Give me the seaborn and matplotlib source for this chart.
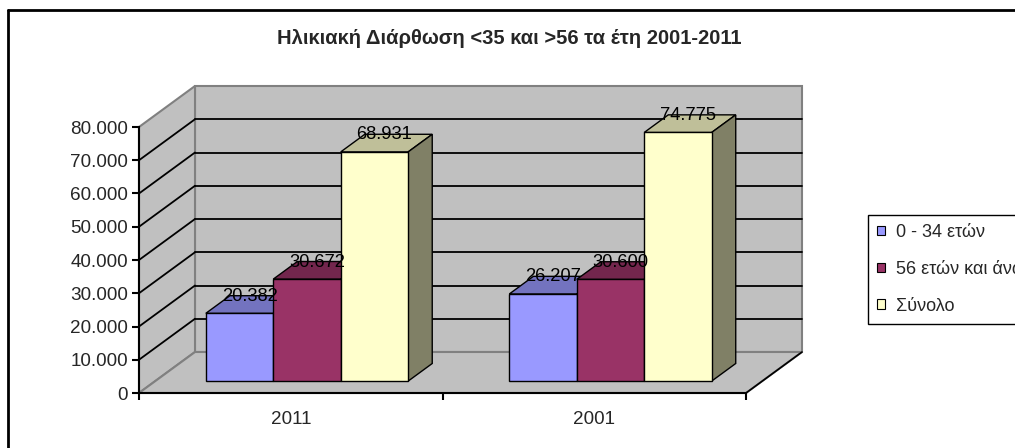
import matplotlib
matplotlib.use("Agg")
import matplotlib.pyplot as plt
import matplotlib.colors as mcolors
from matplotlib.patches import Polygon, Rectangle
from matplotlib.lines import Line2D
from matplotlib.transforms import IdentityTransform, Affine2D
from matplotlib.ticker import FuncFormatter, FixedLocator
import numpy as np
import pandas as pd
import seaborn as sns

# ─── Data ─────────────────────────────────────────────────────────────────────

TITLE  = "Ηλικιακή Διάρθωση <35 και >56 τα έτη 2001-2011"
years  = ["2011", "2001"]
groups = ["0 - 34 ετών", "56 ετών και άνω", "Σύνολο"]
young  = [20382, 26207]
older  = [30672, 30600]
total  = [68931, 74775]
colors = ["#9999FF", "#993366", "#FFFFCC"]
yticks = [0, 10000, 20000, 30000, 40000, 50000, 60000, 70000, 80000]

df = pd.DataFrame({
    "year":  years * 3,
    "group": np.repeat(groups, len(years)),
    "value": young + older + total,
})

sns.set_style("ticks")
plt.rcParams["font.family"] = ["Liberation Sans", "DejaVu Sans"]

W, H = 1015, 448
fig = plt.figure(figsize=(W / 100, H / 100), dpi=100)
ax = fig.add_axes([139 / W, 55 / H, 607 / W, 266 / H])

sns.barplot(data=df, x="year", y="value", hue="group", order=years,
            hue_order=groups, palette=colors, width=2 / 3, saturation=1,
            edgecolor="black", linewidth=1, errorbar=None, legend=False, ax=ax)
bars = sorted(ax.patches, key=lambda p: p.get_x())

X0, X1 = -0.5, 1.5
TOP = yticks[-1]
ax.set_xlim(X0, X1)
ax.set_ylim(0, TOP)
ax.patch.set_visible(False)

# fake 3D depth (pixels for full depth)
DEPTH = np.array([56.0, 41.0])
D0, D1 = 0.29, 0.72   # bar front / back depth fraction


def pt(x, y, d):
    return ax.transData.transform((x, y)) + d * DEPTH


def poly(pts, fc, ec, lw, z):
    ax.add_patch(Polygon(pts, closed=True, facecolor=fc, edgecolor=ec, lw=lw,
                         transform=IdentityTransform(), clip_on=False, zorder=z))


def seg(a, b, color, lw, z):
    ax.add_line(Line2D([a[0], b[0]], [a[1], b[1]], color=color, lw=lw,
                       transform=IdentityTransform(), clip_on=False, zorder=z))


def shade(c, f):
    r, g, b, a = mcolors.to_rgba(c)
    return (r * f, g * f, b * f, 1)


def fmt(v, _=None):
    return f"{v:,.0f}".replace(",", ".")


# walls + floor
wall, edge = "#C0C0C0", "#808080"
poly([pt(X0, 0, 1), pt(X1, 0, 1), pt(X1, TOP, 1), pt(X0, TOP, 1)], wall, edge, 1.5, 0.5)
poly([pt(X0, 0, 0), pt(X0, TOP, 0), pt(X0, TOP, 1), pt(X0, 0, 1)], wall, edge, 1.5, 0.6)
poly([pt(X0, 0, 0), pt(X1, 0, 0), pt(X1, 0, 1), pt(X0, 0, 1)], wall, edge, 1.5, 0.7)
seg(pt(X1, 0, 0), pt(X1, 0, 1), "black", 1.2, 0.8)

# gridlines on back and side walls
for t in yticks[1:-1]:
    seg(pt(X0, t, 1), pt(X1, t, 1), "black", 1.3, 1)
    seg(pt(X0, t, 0), pt(X0, t, 1), "black", 1.3, 1)

# bars with top and side faces
shift = Affine2D().translate(*(D0 * DEPTH))
for i, p in enumerate(bars):
    x, w, h = p.get_x(), p.get_width(), p.get_height()
    fc = p.get_facecolor()
    z = 3 + 2 * i
    poly([pt(x, h, D0), pt(x + w, h, D0), pt(x + w, h, D1), pt(x, h, D1)],
         shade(fc, 0.75), "black", 1, z)
    poly([pt(x + w, 0, D0), pt(x + w, h, D0), pt(x + w, h, D1), pt(x + w, 0, D1)],
         shade(fc, 0.5), "black", 1, z)
    p.set_transform(ax.transData + shift)
    p.set_clip_on(False)
    p.set_zorder(z + 1)

for p in bars:
    x, w, h = p.get_x(), p.get_width(), p.get_height()
    lx, ly = pt(x + w / 2, h, D0) + np.array([10, 17])
    ax.text(lx, ly, fmt(h), transform=IdentityTransform(), ha="center",
            va="center", fontsize=13.2, color="black", zorder=50)

# axes
ax.yaxis.set_major_locator(FixedLocator(yticks))
ax.yaxis.set_major_formatter(FuncFormatter(fmt))
ax.xaxis.set_minor_locator(FixedLocator([-0.5, 0.5, 1.5]))
ax.tick_params(axis="y", length=5, width=1.5, pad=3, labelsize=13.6, color="black")
ax.tick_params(axis="x", which="major", length=0, pad=13, labelsize=13.6)
ax.tick_params(axis="x", which="minor", length=5, width=1.5, color="black")
ax.set_xlabel("")
ax.set_ylabel("")
for s in ["top", "right"]:
    ax.spines[s].set_visible(False)
for s in ["left", "bottom"]:
    ax.spines[s].set_color("black")
    ax.spines[s].set_linewidth(1.5)
    ax.spines[s].set_zorder(2.5)

fig.text(509 / W, 1 - 39 / H, TITLE, ha="center", va="center",
         fontsize=14.5, fontweight="bold")

handles = [Rectangle((0, 0), 1, 1, facecolor=c, edgecolor="black", lw=0.8) for c in colors]
leg = fig.legend(handles, groups, loc="upper left",
                 bbox_to_anchor=(868 / W, 1 - 215 / H), frameon=True,
                 fancybox=False, edgecolor="black", framealpha=1, fontsize=13,
                 handlelength=0.45, handleheight=0.45, handletextpad=0.6,
                 labelspacing=1.1, borderpad=0.5, borderaxespad=0)
leg.get_frame().set_linewidth(1)

# chart area border (runs off the right and bottom edges)
fig.add_artist(Line2D([8 / W, 1], [1 - 10 / H, 1 - 10 / H], color="black", lw=2,
                      transform=fig.transFigure))
fig.add_artist(Line2D([8 / W, 8 / W], [0, 1 - 10 / H], color="black", lw=2,
                      transform=fig.transFigure))

fig.savefig("out.png", dpi=100)
plt.close()
